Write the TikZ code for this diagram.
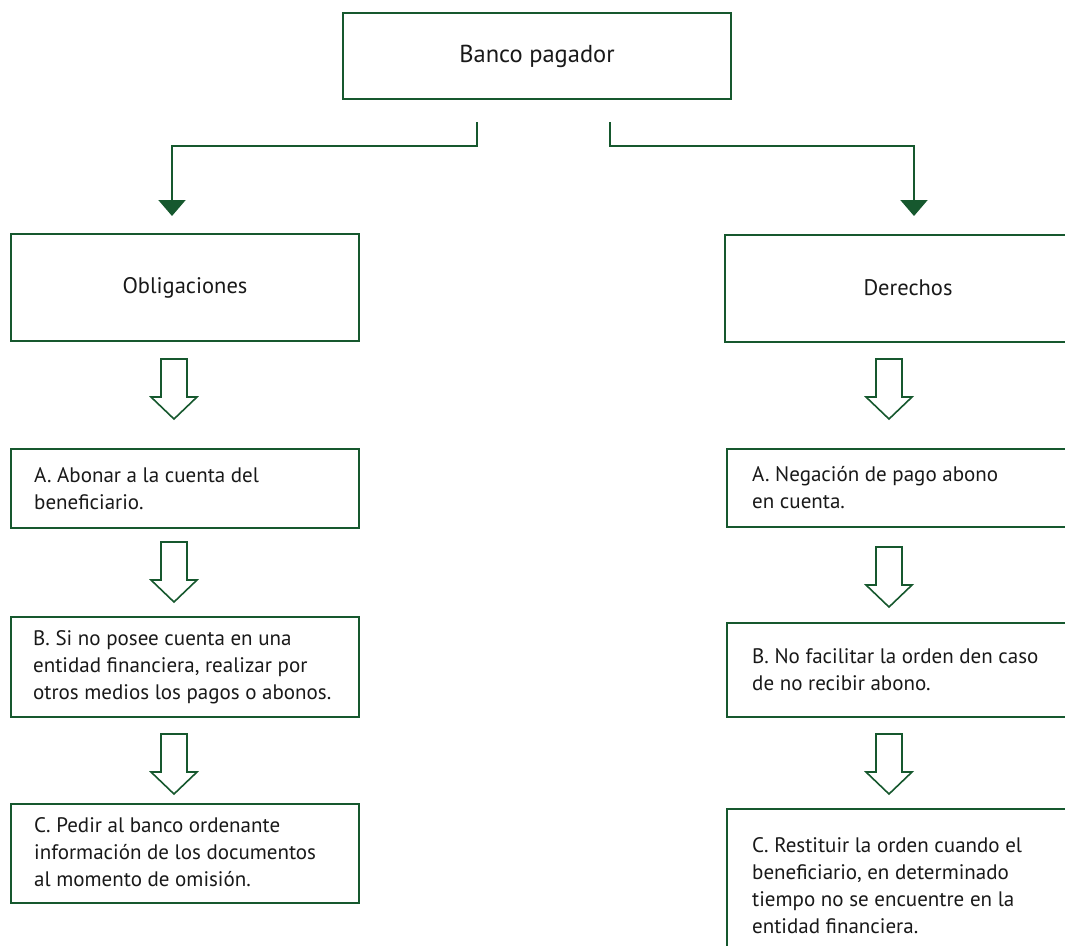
\documentclass[tikz,border=0pt]{standalone}
\usepackage{fontspec}
\setmainfont{PT Sans}
\usetikzlibrary{arrows.meta}
\definecolor{dkgreen}{RGB}{22,88,46}
\newcommand\blockarrow[4]{%
  \draw[hollowarrow] (#2-13,#3) -- (#2+13,#3) -- (#2+13,#4-22) -- (#2+23,#4-22)
    -- (#2,#4) -- (#2-23,#4-22) -- (#2-13,#4-22) -- cycle;
  \coordinate (#1) at (#2,#4);}
\tikzset{
  frame/.style={draw=dkgreen, line width=2pt, fill=white, inner sep=0pt},
  lbox/.style={frame, minimum width=348pt},
  rbox/.style={frame, minimum width=366pt},
  txt/.style={align=left, anchor=west, inner sep=0pt,
    font=\fontsize{21}{27}\selectfont, text=black!90},
  cbox/.style={frame, align=center,
    font=\fontsize{22.5}{27}\selectfont, text=black!90},
  hollowarrow/.style={draw=dkgreen, line width=1.6pt, fill=white, line join=miter},
  conn/.style={draw=dkgreen, line width=2pt, -{Triangle[width=27pt,length=16pt]}}
}
\begin{document}
\begin{tikzpicture}[x=1pt,y=-1pt]
\useasboundingbox (0,0) rectangle (1065,945);
\fill[white] (0,0) rectangle (1065,945);
\clip (0,0) rectangle (1065,945);

\node[cbox, minimum width=388pt, minimum height=86pt, font=\fontsize{24.5}{29}\selectfont] (banco) at (537,56) {Banco pagador};

\node[cbox, minimum width=348pt, minimum height=107pt] (oblig) at (185,287.5) {Obligaciones};
\node[cbox, minimum width=366pt, minimum height=107pt] (der) at (908,288) {Derechos};

\node[lbox, minimum height=79pt] (la) at (185,488.5) {};
\node[txt] (lat) at ([xshift=24pt]la.west) {A. Abonar a la cuenta del\\beneficiario.};
\node[lbox, minimum height=100pt] (lb) at (185,667) {};
\node[txt] (lbt) at ([xshift=23pt]lb.west) {B. Si no posee cuenta en una\\entidad financiera, realizar por\\otros medios los pagos o abonos.};
\node[lbox, minimum height=99pt] (lc) at (185,853.5) {};
\node[txt] (lct) at ([xshift=24pt,yshift=1pt]lc.west) {C. Pedir al banco ordenante\\información de los documentos\\al momento de omisión.};

\node[rbox, minimum height=78pt] (ra) at (910,488) {};
\node[txt] (rat) at ([xshift=26pt]ra.west) {A. Negación de pago abono\\en cuenta.};
\node[rbox, minimum height=94pt] (rb) at (910,670) {};
\node[txt] (rbt) at ([xshift=26pt]rb.west) {B. No facilitar la orden den caso\\de no recibir abono.};
\node[rbox, minimum height=158pt] (rc) at (910,888) {};
\node[txt] (rct) at ([xshift=26pt,yshift=2pt]rc.west) {C. Restituir la orden cuando el\\beneficiario, en determinado\\tiempo no se encuentre en la\\entidad financiera.};

\coordinate (ls) at (477,122);
\coordinate (rs) at (610,122);
\coordinate (lt) at (172,216);
\coordinate (rt) at (914,216);
\draw[conn] (ls) -- (477,146) -| (lt);
\draw[conn] (rs) -- (610,146) -| (rt);

\blockarrow{la1}{174}{359}{419}
\blockarrow{la2}{174}{542}{602}
\blockarrow{la3}{174}{734}{794}
\blockarrow{ra1}{889}{359}{419}
\blockarrow{ra2}{889}{547}{607}
\blockarrow{ra3}{889}{734}{794}
\end{tikzpicture}
\end{document}
